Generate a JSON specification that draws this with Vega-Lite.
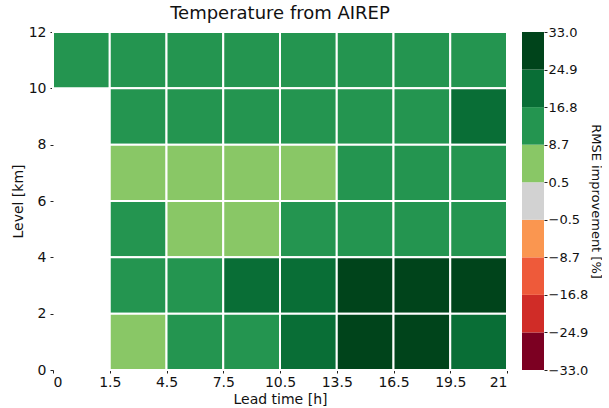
{
  "$schema": "https://vega.github.io/schema/vega-lite/v6.json",
  "background": "white",
  "padding": {"left": 11, "top": 5, "right": 0, "bottom": 0},
  "config": {
    "font": "DejaVu Sans",
    "view": {"stroke": null},
    "axis": {
      "grid": false,
      "domain": false,
      "tickColor": "#222222",
      "tickSize": 3,
      "labelColor": "#111111",
      "labelFontSize": 14,
      "labelFont": "DejaVu Sans",
      "titleFont": "DejaVu Sans",
      "titleFontSize": 14,
      "titleFontWeight": "normal",
      "titleColor": "#111111"
    }
  },
  "datasets": {
    "cells": [
      {"lead_from": 0, "lead_to": 1.5, "level_from": 10, "level_to": 12, "rmse_improvement": 12},
      {"lead_from": 1.5, "lead_to": 4.5, "level_from": 10, "level_to": 12, "rmse_improvement": 13},
      {"lead_from": 4.5, "lead_to": 7.5, "level_from": 10, "level_to": 12, "rmse_improvement": 12},
      {"lead_from": 7.5, "lead_to": 10.5, "level_from": 10, "level_to": 12, "rmse_improvement": 13},
      {"lead_from": 10.5, "lead_to": 13.5, "level_from": 10, "level_to": 12, "rmse_improvement": 12},
      {"lead_from": 13.5, "lead_to": 16.5, "level_from": 10, "level_to": 12, "rmse_improvement": 12},
      {"lead_from": 16.5, "lead_to": 19.5, "level_from": 10, "level_to": 12, "rmse_improvement": 13},
      {"lead_from": 19.5, "lead_to": 21, "level_from": 10, "level_to": 12, "rmse_improvement": 12},

      {"lead_from": 1.5, "lead_to": 4.5, "level_from": 8, "level_to": 10, "rmse_improvement": 12},
      {"lead_from": 4.5, "lead_to": 7.5, "level_from": 8, "level_to": 10, "rmse_improvement": 13},
      {"lead_from": 7.5, "lead_to": 10.5, "level_from": 8, "level_to": 10, "rmse_improvement": 12},
      {"lead_from": 10.5, "lead_to": 13.5, "level_from": 8, "level_to": 10, "rmse_improvement": 12},
      {"lead_from": 13.5, "lead_to": 16.5, "level_from": 8, "level_to": 10, "rmse_improvement": 13},
      {"lead_from": 16.5, "lead_to": 19.5, "level_from": 8, "level_to": 10, "rmse_improvement": 12},
      {"lead_from": 19.5, "lead_to": 21, "level_from": 8, "level_to": 10, "rmse_improvement": 19},

      {"lead_from": 1.5, "lead_to": 4.5, "level_from": 6, "level_to": 8, "rmse_improvement": 6},
      {"lead_from": 4.5, "lead_to": 7.5, "level_from": 6, "level_to": 8, "rmse_improvement": 5},
      {"lead_from": 7.5, "lead_to": 10.5, "level_from": 6, "level_to": 8, "rmse_improvement": 5},
      {"lead_from": 10.5, "lead_to": 13.5, "level_from": 6, "level_to": 8, "rmse_improvement": 6},
      {"lead_from": 13.5, "lead_to": 16.5, "level_from": 6, "level_to": 8, "rmse_improvement": 11},
      {"lead_from": 16.5, "lead_to": 19.5, "level_from": 6, "level_to": 8, "rmse_improvement": 12},
      {"lead_from": 19.5, "lead_to": 21, "level_from": 6, "level_to": 8, "rmse_improvement": 12},

      {"lead_from": 1.5, "lead_to": 4.5, "level_from": 4, "level_to": 6, "rmse_improvement": 12},
      {"lead_from": 4.5, "lead_to": 7.5, "level_from": 4, "level_to": 6, "rmse_improvement": 6},
      {"lead_from": 7.5, "lead_to": 10.5, "level_from": 4, "level_to": 6, "rmse_improvement": 6},
      {"lead_from": 10.5, "lead_to": 13.5, "level_from": 4, "level_to": 6, "rmse_improvement": 11},
      {"lead_from": 13.5, "lead_to": 16.5, "level_from": 4, "level_to": 6, "rmse_improvement": 12},
      {"lead_from": 16.5, "lead_to": 19.5, "level_from": 4, "level_to": 6, "rmse_improvement": 13},
      {"lead_from": 19.5, "lead_to": 21, "level_from": 4, "level_to": 6, "rmse_improvement": 12},

      {"lead_from": 1.5, "lead_to": 4.5, "level_from": 2, "level_to": 4, "rmse_improvement": 14},
      {"lead_from": 4.5, "lead_to": 7.5, "level_from": 2, "level_to": 4, "rmse_improvement": 15},
      {"lead_from": 7.5, "lead_to": 10.5, "level_from": 2, "level_to": 4, "rmse_improvement": 20},
      {"lead_from": 10.5, "lead_to": 13.5, "level_from": 2, "level_to": 4, "rmse_improvement": 21},
      {"lead_from": 13.5, "lead_to": 16.5, "level_from": 2, "level_to": 4, "rmse_improvement": 28},
      {"lead_from": 16.5, "lead_to": 19.5, "level_from": 2, "level_to": 4, "rmse_improvement": 29},
      {"lead_from": 19.5, "lead_to": 21, "level_from": 2, "level_to": 4, "rmse_improvement": 28},

      {"lead_from": 1.5, "lead_to": 4.5, "level_from": 0, "level_to": 2, "rmse_improvement": 7},
      {"lead_from": 4.5, "lead_to": 7.5, "level_from": 0, "level_to": 2, "rmse_improvement": 14},
      {"lead_from": 7.5, "lead_to": 10.5, "level_from": 0, "level_to": 2, "rmse_improvement": 15},
      {"lead_from": 10.5, "lead_to": 13.5, "level_from": 0, "level_to": 2, "rmse_improvement": 21},
      {"lead_from": 13.5, "lead_to": 16.5, "level_from": 0, "level_to": 2, "rmse_improvement": 27},
      {"lead_from": 16.5, "lead_to": 19.5, "level_from": 0, "level_to": 2, "rmse_improvement": 28},
      {"lead_from": 19.5, "lead_to": 21, "level_from": 0, "level_to": 2, "rmse_improvement": 20}
    ],
    "colorbar": [
      {"bin_lo": -33, "bin_hi": -24.9},
      {"bin_lo": -24.9, "bin_hi": -16.8},
      {"bin_lo": -16.8, "bin_hi": -8.7},
      {"bin_lo": -8.7, "bin_hi": -0.5},
      {"bin_lo": -0.5, "bin_hi": 0.5},
      {"bin_lo": 0.5, "bin_hi": 8.7},
      {"bin_lo": 8.7, "bin_hi": 16.8},
      {"bin_lo": 16.8, "bin_hi": 24.9},
      {"bin_lo": 24.9, "bin_hi": 33}
    ]
  },
  "spacing": 14,
  "resolve": {"scale": {"color": "shared"}},
  "hconcat": [
    {
      "title": {
        "text": "Temperature from AIREP",
        "fontSize": 18,
        "fontWeight": "normal",
        "font": "DejaVu Sans",
        "color": "#111111",
        "offset": 2
      },
      "width": 454,
      "height": 338,
      "data": {"name": "cells"},
      "mark": {"type": "rect", "stroke": "white", "strokeWidth": 2},
      "encoding": {
        "x": {
          "field": "lead_from",
          "type": "quantitative",
          "title": "Lead time [h]",
          "scale": {
            "domain": [0, 1.5, 4.5, 7.5, 10.5, 13.5, 16.5, 19.5, 21],
            "range": [0, 56.75, 113.5, 170.25, 227, 283.75, 340.5, 397.25, 454]
          },
          "axis": {
            "values": [0, 1.5, 4.5, 7.5, 10.5, 13.5, 16.5, 19.5, 21],
            "labelExpr": "'' + datum.value",
            "labelPadding": 2,
            "titlePadding": 3
          }
        },
        "x2": {"field": "lead_to"},
        "y": {
          "field": "level_from",
          "type": "quantitative",
          "title": "Level [km]",
          "scale": {"domain": [0, 12]},
          "axis": {
            "values": [0, 2, 4, 6, 8, 10, 12],
            "labelPadding": 4,
            "titlePadding": 3
          }
        },
        "y2": {"field": "level_to"},
        "color": {
          "field": "rmse_improvement",
          "type": "quantitative",
          "scale": {
            "type": "threshold",
            "domain": [-24.9, -16.8, -8.7, -0.5, 0.5, 8.7, 16.8, 24.9],
            "range": ["#7c0022", "#d02c27", "#ee5a3a", "#fa9650", "#d2d2d2", "#89c766", "#249550", "#096e36", "#00441b"]
          },
          "legend": null
        }
      }
    },
    {
      "width": 22,
      "height": 338,
      "data": {"name": "colorbar"},
      "mark": {"type": "rect"},
      "encoding": {
        "y": {
          "field": "bin_lo",
          "type": "quantitative",
          "title": "RMSE improvement [%]",
          "scale": {
            "domain": [-33, -24.9, -16.8, -8.7, -0.5, 0.5, 8.7, 16.8, 24.9, 33],
            "range": [338, 300.444, 262.889, 225.333, 187.778, 150.222, 112.667, 75.111, 37.556, 0]
          },
          "axis": {
            "orient": "right",
            "values": [-33, -24.9, -16.8, -8.7, -0.5, 0.5, 8.7, 16.8, 24.9, 33],
            "labelExpr": "replace(format(datum.value, '.1f'), '-', '\u2212')",
            "labelFontSize": 13,
            "labelPadding": 1,
            "titlePadding": 1,
            "titleFontSize": 13,
            "titleAngle": 90
          }
        },
        "y2": {"field": "bin_hi"},
        "color": {
          "field": "bin_lo",
          "type": "quantitative",
          "scale": {
            "type": "threshold",
            "domain": [-24.9, -16.8, -8.7, -0.5, 0.5, 8.7, 16.8, 24.9],
            "range": ["#7c0022", "#d02c27", "#ee5a3a", "#fa9650", "#d2d2d2", "#89c766", "#249550", "#096e36", "#00441b"]
          },
          "legend": null
        }
      }
    }
  ]
}
